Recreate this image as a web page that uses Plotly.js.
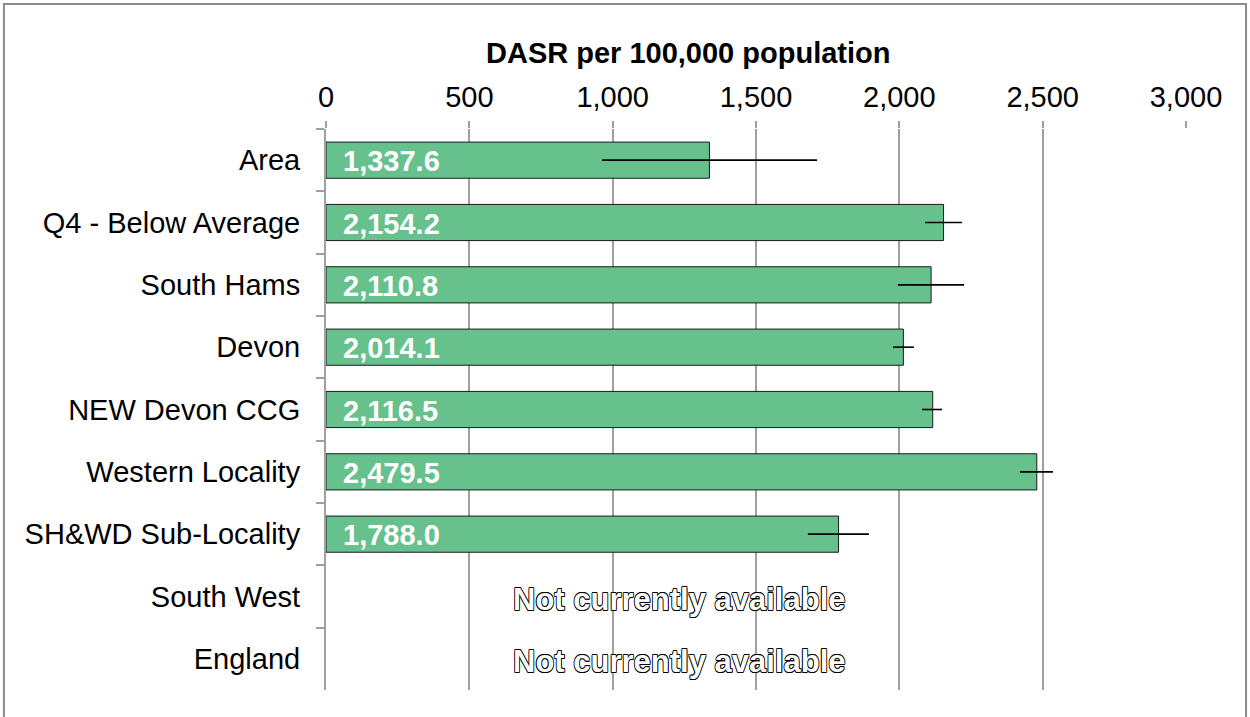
<!DOCTYPE html>
<html>
<head>
<meta charset="utf-8">
<script src="https://cdn.plot.ly/plotly-3.0.1.min.js"></script>
<style>html,body{margin:0;padding:0;background:#fff;}#chart{width:1250px;height:717px;}</style>
</head>
<body>
<div id="chart"></div>
<script>
// ---- data ----
const categories = ["Area", "Q4 - Below Average", "South Hams", "Devon", "NEW Devon CCG", "Western Locality", "SH&WD Sub-Locality", "South West", "England"];
const dasr = [1337.6, 2154.2, 2110.8, 2014.1, 2116.5, 2479.5, 1788.0, null, null];
const ciLower = [963, 2090, 1995, 1978, 2079, 2421, 1681, null, null];
const ciUpper = [1713, 2219, 2226, 2051, 2149, 2536, 1894, null, null];
const xTicks = [0, 500, 1000, 1500, 2000, 2500, 3000];
const axisTitle = "DASR per 100,000 population";
const unavailableText = "Not currently available";

const FONT = "Liberation Sans, Arial, sans-serif";
const errPlus = dasr.map((v, i) => v == null ? null : ciUpper[i] - v);
const errMinus = dasr.map((v, i) => v == null ? null : v - ciLower[i]);

const fmt = v => v.toLocaleString("en-GB", {minimumFractionDigits: 1, maximumFractionDigits: 1});

const trace = {
  type: "bar",
  orientation: "h",
  y: categories,
  x: dasr,
  width: 0.58,
  marker: {color: "#66c18c", line: {color: "#1a1a1a", width: 1}},
  error_x: {type: "data", symmetric: false, array: errPlus, arrayminus: errMinus,
            color: "#000", thickness: 1.6, width: 0},
  hoverinfo: "skip"
};

const outline = "0.8px 0 0 #000, -0.8px 0 0 #000, 0 0.8px 0 #000, 0 -0.8px 0 #000, 0.6px 0.6px 0 #000, -0.6px -0.6px 0 #000, 0.6px -0.6px 0 #000, -0.6px 0.6px 0 #000";

const annotations = [];
categories.forEach((c, i) => {
  if (dasr[i] != null) {
    annotations.push({x: 0, y: c, xref: "x", yref: "y", xanchor: "left", yanchor: "middle",
      xshift: 15, yshift: -1, text: fmt(dasr[i]), showarrow: false,
      font: {family: FONT, size: 29, color: "#fff", weight: "bold"}});
  } else {
    annotations.push({x: 0.4116, y: c, xref: "paper", yref: "y", xanchor: "center", yanchor: "middle",
      yshift: -3, text: unavailableText, showarrow: false,
      font: {family: FONT, size: 31, color: "#fff", weight: "bold", shadow: outline}});
  }
});
annotations.push({x: 0.4215, y: 1.135, xref: "paper", yref: "paper", xanchor: "center", yanchor: "middle",
  text: "<b>" + axisTitle + "</b>", showarrow: false, font: {family: FONT, size: 29, color: "#000"}});

const layout = {
  width: 1250, height: 717,
  margin: {l: 326, r: 64, t: 129, b: 27, pad: 0},
  paper_bgcolor: "#fff", plot_bgcolor: "#fff",
  font: {family: FONT, size: 29, color: "#000"},
  showlegend: false,
  bargap: 0.42,
  xaxis: {
    side: "top", range: [0, 3000], tickvals: xTicks, ticktext: xTicks.map(v => v.toLocaleString("en-GB")),
    showgrid: true, gridcolor: "#a0a0a0", gridwidth: 2,
    ticks: "outside", ticklen: 7, tickcolor: "#a0a0a0", tickwidth: 2,
    showline: false, zeroline: false, fixedrange: true,
    tickfont: {family: FONT, size: 29, color: "#000"}, ticklabelstandoff: 2
  },
  yaxis: {
    type: "category", autorange: "reversed",
    showgrid: false, zeroline: false,
    showline: true, linecolor: "#a0a0a0", linewidth: 2,
    ticks: "outside", tickson: "boundaries", ticklen: 8, tickcolor: "#a0a0a0", tickwidth: 2,
    tickfont: {family: FONT, size: 29, color: "#000"}, ticklabelstandoff: 18, fixedrange: true
  },
  shapes: [{type: "rect", xref: "paper", yref: "paper", x0: -0.3745, x1: 1.0698, y0: -0.2, y1: 1.2228,
            line: {color: "#8c8c8c", width: 2}, fillcolor: "rgba(0,0,0,0)", layer: "below"}],
  annotations: annotations
};

Plotly.newPlot("chart", [trace], layout, {staticPlot: true, displayModeBar: false});
</script>
</body>
</html>
